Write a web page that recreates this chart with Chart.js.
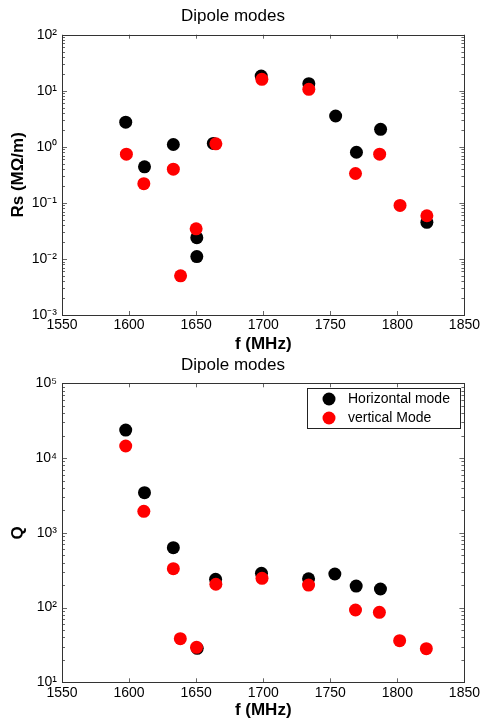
<!DOCTYPE html>
<html>
<head>
<meta charset="utf-8">
<script src="https://cdn.jsdelivr.net/npm/chart.js@4.4.1/dist/chart.umd.min.js"></script>
<style>
  html, body { margin: 0; padding: 0; background: #fff; }
  body { width: 482px; height: 723px; position: relative; overflow: hidden; }
  #c1 { position: absolute; left: 0; top: 0; }
  #c2 { position: absolute; left: 0; top: 340px; }
</style>
</head>
<body>
<canvas id="c1" width="482" height="356"></canvas>
<canvas id="c2" width="482" height="383"></canvas>
<script>
// ---- data ----
const chartTitle = 'Dipole modes';
const xTitle = 'f (MHz)';
const rsTitle = 'Rs (M\u03A9/m)';
const qTitle = 'Q';
const seriesNames = ['Horizontal mode', 'vertical Mode'];

const xTicks = [1550, 1600, 1650, 1700, 1750, 1800, 1850];

// Rs plot (shunt impedance)
const rsHorizFreq = [1597.5, 1611.5, 1633, 1650.5, 1650.5, 1662.8, 1698.5, 1734, 1754, 1769.5, 1787.5, 1822];
const rsHoriz     = [2.75, 0.44, 1.10, 0.024, 0.011, 1.15, 18.3, 13.4, 3.55, 0.80, 2.05, 0.045];
const rsVertFreq  = [1598, 1611, 1633, 1638.4, 1650, 1664.7, 1699, 1734, 1768.8, 1786.8, 1802, 1822];
const rsVert      = [0.74, 0.22, 0.40, 0.0050, 0.0345, 1.13, 16.0, 10.6, 0.334, 0.74, 0.090, 0.059];
const rsYTicks    = [1e-3, 1e-2, 1e-1, 1e0, 1e1, 1e2];
const rsYLabels   = ['10\u207B\u00B3', '10\u207B\u00B2', '10\u207B\u00B9', '10\u2070', '10\u00B9', '10\u00B2'];

// Q plot
const qHorizFreq = [1597.5, 1611.5, 1633, 1650.8, 1664.5, 1698.7, 1733.8, 1753.4, 1769.3, 1787.4];
const qHoriz     = [23700, 3440, 632, 28.5, 239, 287, 243, 281, 194, 177];
const qVertFreq  = [1597.5, 1611, 1633, 1638.2, 1650.3, 1664.7, 1699.1, 1733.8, 1768.8, 1786.6, 1801.7, 1821.6];
const qVert      = [14500, 1940, 331, 38.3, 29.4, 205, 246, 200, 92.7, 86.3, 36, 28.2];
const qYTicks    = [1e1, 1e2, 1e3, 1e4, 1e5];
const qYLabels   = ['10\u00B9', '10\u00B2', '10\u00B3', '10\u2074', '10\u2075'];

// ---- styling / helpers ----
const FONT = '"Liberation Sans", Arial, Helvetica, sans-serif';
Chart.defaults.color = '#000';
Chart.defaults.font.family = FONT;

function pts(xs, ys) { return xs.map((x, i) => ({ x: x, y: ys[i] })); }

const frame = {
  id: 'frame',
  afterDraw(chart) {
    const { ctx, chartArea: a } = chart;
    const xs = chart.scales.x, ys = chart.scales.y;
    ctx.save();
    ctx.lineWidth = 1;
    ctx.strokeStyle = '#666';
    ctx.beginPath();
    xs.ticks.forEach(t => {
      const px = Math.round(xs.getPixelForValue(t.value)) + 0.5;
      ctx.moveTo(px, a.bottom); ctx.lineTo(px, a.bottom - 4);
      ctx.moveTo(px, a.top); ctx.lineTo(px, a.top + 4);
    });
    const lo = Math.round(Math.log10(ys.min)), hi = Math.round(Math.log10(ys.max));
    for (let d = lo; d <= hi; d++) {
      for (let k = 1; k <= 9; k++) {
        if (d === hi && k > 1) break;
        const v = k * Math.pow(10, d);
        const py = Math.round(ys.getPixelForValue(v)) + 0.5;
        const len = k === 1 ? 5 : 3;
        ctx.moveTo(a.left, py); ctx.lineTo(a.left + len, py);
        ctx.moveTo(a.right, py); ctx.lineTo(a.right - len, py);
      }
    }
    ctx.stroke();
    ctx.strokeStyle = '#333';
    ctx.strokeRect(Math.round(a.left) + 0.5, Math.round(a.top) + 0.5,
                   Math.round(a.right - a.left), Math.round(a.bottom - a.top));
    ctx.restore();
  }
};

const boxLegend = {
  id: 'boxLegend',
  afterDraw(chart, args, opts) {
    if (!opts || !opts.show) return;
    const { ctx, chartArea: a } = chart;
    const w = 153, h = 40;
    const x0 = Math.round(a.right - 4.5 - w), y0 = Math.round(a.top + 5);
    ctx.save();
    ctx.fillStyle = '#fff';
    ctx.fillRect(x0, y0, w, h);
    ctx.strokeStyle = '#222';
    ctx.lineWidth = 1;
    ctx.strokeRect(x0 + 0.5, y0 + 0.5, w, h);
    ctx.font = '14px ' + FONT;
    ctx.textBaseline = 'middle';
    ctx.textAlign = 'left';
    chart.data.datasets.forEach((ds, i) => {
      const cy = y0 + 11 + i * 19;
      ctx.fillStyle = ds.backgroundColor;
      ctx.beginPath();
      ctx.arc(x0 + 22, cy, 6.5, 0, Math.PI * 2);
      ctx.fill();
      ctx.fillStyle = '#000';
      ctx.fillText(ds.label, x0 + 41, cy);
    });
    ctx.restore();
  }
};

function makeChart(canvasId, hx, hy, vx, vy, yMin, yMax, yTicks, yLabels, yTitle, titlePad, xTitlePadBottom, xAxisHeight, showLegend) {
  return new Chart(document.getElementById(canvasId), {
    type: 'scatter',
    data: {
      datasets: [
        { label: seriesNames[0], data: pts(hx, hy), backgroundColor: '#000000', borderWidth: 0, pointRadius: 6.5, pointHoverRadius: 6.5, order: 1 },
        { label: seriesNames[1], data: pts(vx, vy), backgroundColor: '#ff0000', borderWidth: 0, pointRadius: 6.5, pointHoverRadius: 6.5, order: 0 }
      ]
    },
    options: {
      responsive: false,
      animation: false,
      events: [],
      layout: { padding: { left: 0, right: 16, top: 0, bottom: 0 } },
      plugins: {
        legend: { display: false },
        tooltip: { enabled: false },
        title: {
          display: true,
          text: chartTitle,
          color: '#000',
          font: { size: 17, weight: 'normal', family: FONT },
          padding: titlePad
        },
        boxLegend: { show: showLegend }
      },
      scales: {
        x: {
          type: 'linear',
          min: 1550, max: 1850,
          afterBuildTicks: s => { s.ticks = xTicks.map(v => ({ value: v })); },
          afterFit: s => { s.height = xAxisHeight; },
          grid: { display: false, drawTicks: false },
          border: { display: false },
          ticks: { padding: 2, font: { size: 14, family: FONT }, color: '#000', maxRotation: 0, autoSkip: false,
                   callback: (v, i) => String(xTicks[i]) },
          title: { display: true, text: xTitle, font: { size: 17, weight: 'bold', family: FONT }, color: '#000',
                   padding: { top: 0, bottom: xTitlePadBottom } }
        },
        y: {
          type: 'logarithmic',
          min: yMin, max: yMax,
          afterBuildTicks: s => { s.ticks = yTicks.map(v => ({ value: v })); },
          afterFit: s => { s.width = 62; },
          grid: { display: false, drawTicks: false },
          border: { display: false },
          ticks: { padding: 5, font: { size: 14, family: FONT }, color: '#000', autoSkip: false,
                   callback: (v, i) => yLabels[i] },
          title: { display: true, text: yTitle, font: { size: 17, weight: 'bold', family: FONT }, color: '#000',
                   padding: { top: 8, bottom: 0 } }
        }
      }
    },
    plugins: [frame, boxLegend]
  });
}

makeChart('c1', rsHorizFreq, rsHoriz, rsVertFreq, rsVert, 1e-3, 1e2, rsYTicks, rsYLabels, rsTitle,
          { top: 5.8, bottom: 8.5 }, 1, 41, false);
makeChart('c2', qHorizFreq, qHoriz, qVertFreq, qVert, 1e1, 1e5, qYTicks, qYLabels, qTitle,
          { top: 14.8, bottom: 8.1 }, 2, 40.7, true);
</script>
</body>
</html>
